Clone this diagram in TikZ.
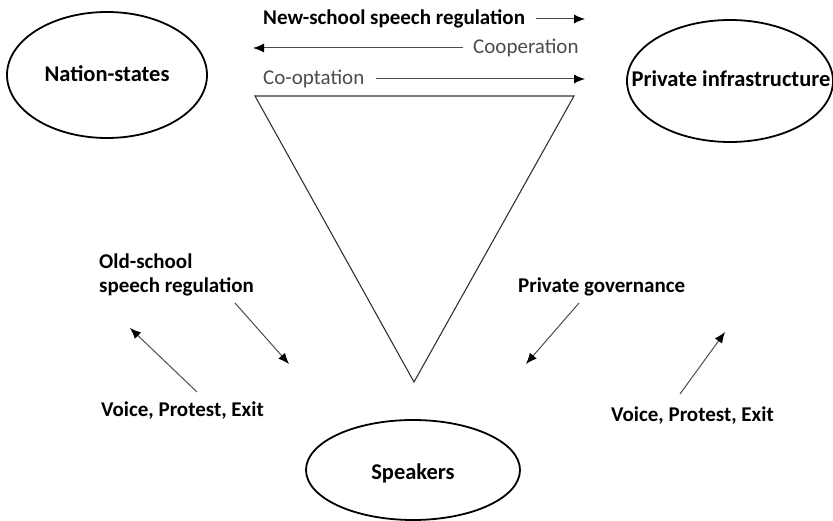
\documentclass[tikz,border=0pt]{standalone}
\usepackage{fontspec}
\setmainfont{Carlito}
\usetikzlibrary{arrows.meta}

\begin{document}
\begin{tikzpicture}[x=1pt, y=-1pt]
		\useasboundingbox (0,0) rectangle (833,521);
		\tikzstyle{every node}=[align=left, inner sep=1pt, font=\fontsize{21}{24}\selectfont\bfseries]
		\tikzstyle{actor}=[line width=1.8pt]
		\tikzstyle{big}=[font=\fontsize{22.5}{26}\selectfont\bfseries]
		\tikzstyle{link}=[-{Latex[length=11pt, width=9pt, color=black]}, line width=1pt, black!70]
		\tikzstyle{soft}=[font=\fontsize{21}{24}\selectfont, text=black!70]

		% actors
		\node[big] (nation) at (107,74) {Nation-states};
		\node[big] (infra) at (731,79) {Private infrastructure};
		\node[big] (speakers) at (413,473) {Speakers};
		\draw[actor] (107,75) ellipse [x radius=100, y radius=63];
		\draw[actor] (730,81) ellipse [x radius=103, y radius=61];
		\draw[actor] (413,470) ellipse [x radius=107, y radius=50];

		% triangle
		\coordinate (tl) at (255,96);
		\coordinate (tr) at (574,96);
		\coordinate (apex) at (414,382);
		\draw[line width=1.1pt, black!80] (tl) -- (tr) -- (apex) -- cycle;

		% top relations
		\node[anchor=west] (newschool) at (262,19) {New-school speech regulation};
		\node[anchor=west, soft] (coop) at (472,48) {Cooperation};
		\node[anchor=west, soft] (coopt) at (262,79) {Co-optation};
		\coordinate (ns-end) at (585,19);
		\coordinate (coop-end) at (253,48);
		\coordinate (coopt-end) at (585,79);
		\draw[link, shorten <=10pt] (newschool) -- (ns-end);
		\draw[link, shorten <=9pt] (coop) -- (coop-end);
		\draw[link, shorten <=10pt] (coopt) -- (coopt-end);

		% lower relations
		\node[anchor=west] (oldschool) at (98,275) {Old-school\\speech regulation};
		\node[anchor=west] (privgov) at (517,287) {Private governance};
		\node[anchor=west] (voiceL) at (100,411) {Voice, Protest, Exit};
		\node[anchor=west] (voiceR) at (610,416) {Voice, Protest, Exit};
		\coordinate (os-a) at (235,303);
		\coordinate (os-b) at (289,364);
		\coordinate (vl-a) at (197,392);
		\coordinate (vl-b) at (130,328);
		\coordinate (pg-a) at (579,303);
		\coordinate (pg-b) at (526,364);
		\coordinate (vr-a) at (680,394);
		\coordinate (vr-b) at (725,332);
		\draw[link] (os-a) -- (os-b);
		\draw[link] (vl-a) -- (vl-b);
		\draw[link] (pg-a) -- (pg-b);
		\draw[link] (vr-a) -- (vr-b);
\end{tikzpicture}
\end{document}
